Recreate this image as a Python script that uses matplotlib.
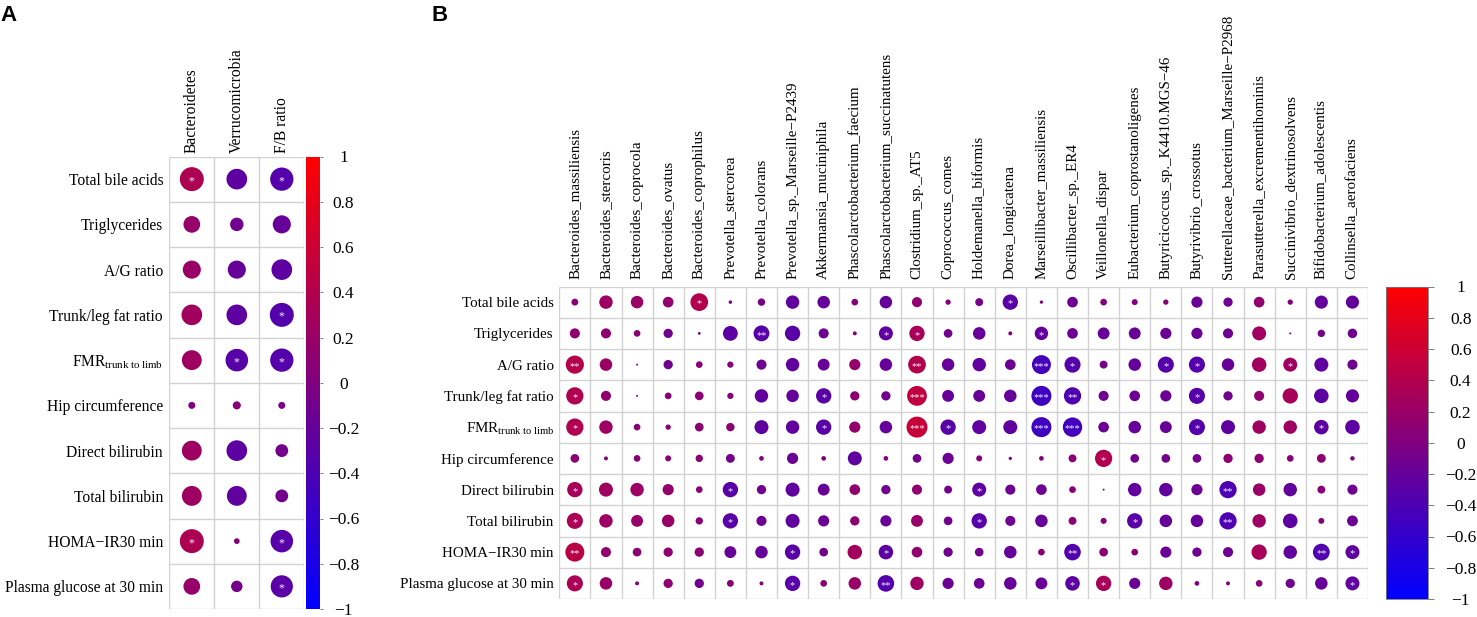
import numpy as np
import matplotlib
matplotlib.use("Agg")
import matplotlib.pyplot as plt
from matplotlib.colors import LinearSegmentedColormap, Normalize
from matplotlib.cm import ScalarMappable
from matplotlib.ticker import FuncFormatter
from matplotlib.transforms import ScaledTranslation

plt.rcParams['font.family'] = ['Liberation Serif', 'DejaVu Serif']
plt.rcParams['mathtext.fontset'] = 'custom'
plt.rcParams['mathtext.rm'] = 'Liberation Serif'
plt.rcParams['mathtext.it'] = 'Liberation Serif:italic'

# ---------------- data ----------------
row_labels = ["Total bile acids", "Triglycerides", "A/G ratio", "Trunk/leg fat ratio",
              r"FMR$_{\mathrm{trunk\ to\ limb}}$", "Hip circumference", "Direct bilirubin",
              "Total bilirubin", "HOMA\u2212IR30 min", "Plasma glucose at 30 min"]

cols_A = ["Bacteroidetes", "Verrucomicrobia", "F/B ratio"]
corr_A = [
    [0.35, -0.26, -0.33],
    [0.17, -0.11, -0.20],
    [0.20, -0.20, -0.26],
    [0.26, -0.26, -0.35],
    [0.24, -0.31, -0.33],
    [0.03, 0.04, -0.03],
    [0.24, -0.26, -0.10],
    [0.24, -0.24, -0.10],
    [0.35, 0.02, -0.31],
    [0.17, -0.08, -0.30],
]
sig_A = [
    ["*", "", "*"],
    ["", "", ""],
    ["", "", ""],
    ["", "", "*"],
    ["", "*", "*"],
    ["", "", ""],
    ["", "", ""],
    ["", "", ""],
    ["*", "", "*"],
    ["", "", "*"],
]

cols_B = ["Bacteroides_massiliensis", "Bacteroides_stercoris", "Bacteroides_coprocola",
          "Bacteroides_ovatus", "Bacteroides_coprophilus", "Prevotella_stercorea",
          "Prevotella_colorans", "Prevotella_sp._Marseille\u2212P2439", "Akkermansia_muciniphila",
          "Phascolarctobacterium_faecium", "Phascolarctobacterium_succinatutens",
          "Clostridium_sp._AT5", "Coprococcus_comes", "Holdemanella_biformis",
          "Dorea_longicatena", "Marseillibacter_massiliensis", "Oscillibacter_sp._ER4",
          "Veillonella_dispar", "Eubacterium_coprostanoligenes",
          "Butyricicoccus_sp._K4410.MGS\u221246", "Butyrivibrio_crossotus",
          "Sutterellaceae_bacterium_Marseille\u2212P2968", "Parasutterella_excrementihominis",
          "Succinivibrio_dextrinosolvens", "Bifidobacterium_adolescentis",
          "Collinsella_aerofaciens"]

b_total_bile_acids = [0.06, 0.23, 0.20, 0.145, 0.40, 0.016, -0.07, -0.23, -0.20, 0.057, -0.20, 0.13, 0.036,
                      -0.08, -0.30, 0.014, -0.145, 0.057, 0.046, 0.036, -0.16, -0.11, 0.145, 0.036, -0.22, -0.22]
b_triglycerides = [0.13, 0.13, 0.057, -0.11, 0.01, -0.28, -0.32, -0.30, -0.13, 0.02, -0.25, 0.30, -0.096,
                   -0.20, 0.02, -0.23, -0.145, -0.18, -0.18, -0.16, -0.16, -0.13, 0.25, 0.005, -0.07, -0.115]
b_ag_ratio = [0.42, 0.20, 0.005, -0.11, 0.057, 0.05, -0.13, -0.23, -0.18, 0.16, -0.20, 0.40, -0.20,
              -0.23, -0.145, -0.46, -0.33, -0.08, -0.20, -0.33, -0.33, -0.20, 0.27, 0.25, -0.25, -0.13]
b_trunk_leg = [0.38, 0.13, 0.005, 0.057, 0.096, 0.05, -0.23, -0.20, -0.30, 0.11, -0.11, 0.50, -0.18,
               -0.18, -0.20, -0.51, -0.38, -0.13, -0.145, -0.16, -0.33, -0.11, 0.13, 0.30, -0.27, -0.22]
b_fmr = [0.38, 0.23, 0.057, 0.036, 0.096, 0.09, -0.25, -0.23, -0.30, 0.16, -0.20, 0.56, -0.30,
         -0.25, -0.25, -0.51, -0.48, -0.145, -0.20, -0.18, -0.33, -0.25, 0.23, 0.23, -0.27, -0.27]
b_hip = [0.096, 0.02, 0.057, 0.046, 0.069, -0.10, 0.028, -0.16, 0.028, -0.25, 0.028, -0.096, -0.16,
         0.046, 0.014, 0.028, 0.08, 0.38, -0.096, -0.096, -0.096, 0.11, 0.11, 0.057, 0.10, 0.025]
b_direct_bil = [0.30, 0.25, 0.23, 0.16, 0.057, -0.30, -0.11, -0.25, -0.18, 0.145, -0.11, 0.13, -0.08,
                -0.25, -0.13, -0.145, 0.057, 0.005, -0.23, -0.23, -0.16, -0.38, 0.20, -0.23, 0.08, -0.13]
b_total_bil = [0.33, 0.23, 0.18, 0.20, 0.069, -0.30, -0.13, -0.25, -0.16, 0.11, -0.16, 0.18, -0.096,
               -0.30, -0.13, -0.20, 0.08, 0.046, -0.30, -0.20, -0.20, -0.38, 0.23, -0.27, 0.044, -0.15]
b_homa = [0.46, 0.13, 0.096, 0.11, 0.11, -0.18, -0.20, -0.30, -0.096, 0.27, -0.27, 0.145, -0.11,
          -0.096, -0.20, 0.057, -0.35, 0.096, 0.057, -0.16, -0.11, -0.13, 0.30, -0.23, -0.36, -0.25]
b_glucose = [0.33, 0.20, 0.02, 0.11, -0.11, 0.06, 0.02, -0.30, 0.057, 0.20, -0.35, 0.23, -0.16,
             -0.145, -0.20, -0.18, -0.27, 0.30, -0.16, 0.23, 0.028, 0.02, 0.057, -0.11, -0.20, -0.25]
corr_B = [b_total_bile_acids, b_triglycerides, b_ag_ratio, b_trunk_leg, b_fmr, b_hip,
          b_direct_bil, b_total_bil, b_homa, b_glucose]

# significance marks: (row, column, label)
sig_B_list = [
    (0, 4, "*"), (0, 14, "*"),
    (1, 6, "**"), (1, 10, "*"), (1, 11, "*"), (1, 15, "*"),
    (2, 0, "**"), (2, 11, "**"), (2, 15, "***"), (2, 16, "*"), (2, 19, "*"), (2, 20, "*"), (2, 23, "*"),
    (3, 0, "*"), (3, 8, "*"), (3, 11, "***"), (3, 15, "***"), (3, 16, "**"), (3, 20, "*"),
    (4, 0, "*"), (4, 8, "*"), (4, 11, "***"), (4, 12, "*"), (4, 15, "***"), (4, 16, "***"),
    (4, 20, "*"), (4, 24, "*"),
    (5, 17, "*"),
    (6, 0, "*"), (6, 5, "*"), (6, 13, "*"), (6, 21, "**"),
    (7, 0, "*"), (7, 5, "*"), (7, 13, "*"), (7, 18, "*"), (7, 21, "**"),
    (8, 0, "**"), (8, 7, "*"), (8, 10, "*"), (8, 16, "**"), (8, 24, "**"), (8, 25, "*"),
    (9, 0, "*"), (9, 7, "*"), (9, 10, "**"), (9, 16, "*"), (9, 17, "*"), (9, 25, "*"),
]

cbar_ticks = [1.0, 0.8, 0.6, 0.4, 0.2, 0.0, -0.2, -0.4, -0.6, -0.8, -1.0]

# ---------------- figure ----------------
W, H, DPI = 1477, 617, 100
fig = plt.figure(figsize=(W / DPI, H / DPI), dpi=DPI)
fig.patch.set_facecolor("white")


def rect(x0, y0, x1, y1):
    return [x0 / W, 1 - y1 / H, (x1 - x0) / W, (y1 - y0) / H]


axA = fig.add_axes(rect(169.3, 156.5, 304.3, 609))
caxA = fig.add_axes(rect(305.7, 156.5, 320, 609))
axB = fig.add_axes(rect(559.3, 286.5, 1368, 599))
caxB = fig.add_axes(rect(1385.8, 286.5, 1428, 599))

cmap = LinearSegmentedColormap.from_list("blue_red", ["#0000FF", "#FF0000"])
norm = Normalize(-1, 1)


def draw_panel(ax, corr, sig, cols, rows, fs_lab, xpad, ypad, star_fs):
    corr = np.asarray(corr, dtype=float)
    nr, nc = corr.shape
    ax.set_xlim(0, nc)
    ax.set_ylim(nr, 0)
    for s in ax.spines.values():
        s.set_visible(False)
    ax.vlines(np.arange(nc + 1), 0, nr, color="#d2d2d2", lw=1.0, zorder=1)
    ax.hlines(np.arange(nr + 1), 0, nc, color="#d2d2d2", lw=1.0, zorder=1)
    bb = ax.get_position()
    cell_px = min(bb.width * W / nc, bb.height * H / nr)
    cell_pt = cell_px * 72.0 / DPI
    X, Y = np.meshgrid(np.arange(nc) + 0.5, np.arange(nr) + 0.5)
    sizes = (0.9 * np.sqrt(np.abs(corr)) * cell_pt) ** 2
    ax.scatter(X.ravel(), Y.ravel(), s=sizes.ravel(), c=corr.ravel(), cmap=cmap,
               norm=norm, linewidths=0, zorder=3)
    off = ScaledTranslation(0, -0.42 * star_fs / 72.0, fig.dpi_scale_trans)
    for (i, j, lab) in sig:
        ax.text(j + 0.5, i + 0.5, lab, ha="center", va="baseline", color="#f2ecff",
                fontsize=star_fs, zorder=4, transform=ax.transData + off)
    ax.xaxis.tick_top()
    ax.set_xticks(np.arange(nc) + 0.5)
    ax.set_xticklabels(cols, rotation=90, fontsize=fs_lab)
    ax.set_yticks(np.arange(nr) + 0.5)
    ax.set_yticklabels(rows, fontsize=fs_lab)
    ax.tick_params(axis="x", length=0, pad=xpad)
    ax.tick_params(axis="y", length=0, pad=ypad)


def sig_from_grid(grid):
    out = []
    for i, r in enumerate(grid):
        for j, lab in enumerate(r):
            if lab:
                out.append((i, j, lab))
    return out


draw_panel(axA, corr_A, sig_from_grid(sig_A), cols_A, row_labels, 11.2, 2.8, 4.5, 8.5)
draw_panel(axB, corr_B, sig_B_list, cols_B, row_labels, 10.8, 5.5, 4.0, 7.5)


def fmt(v, pos):
    s = "%g" % round(v, 1)
    if s == "-0":
        s = "0"
    return s.replace("-", "\u2212")


def draw_cbar(cax, pad, ticklen, outline):
    cb = fig.colorbar(ScalarMappable(norm=norm, cmap=cmap), cax=cax, ticks=cbar_ticks,
                      format=FuncFormatter(fmt))
    cb.outline.set_visible(outline)
    if outline:
        cb.outline.set_linewidth(0.6)
        cb.outline.set_edgecolor("#777777")
    cax.tick_params(axis="y", direction="out", length=ticklen, width=0.6, color="#666666",
                    pad=pad, labelsize=12.5)
    for t in cax.get_yticklabels():
        t.set_horizontalalignment("center")
    return cb


draw_cbar(caxA, 14.8, 2.2, False)
draw_cbar(caxB, 19.5, 4.0, True)

fig.text(0.0, 1 - 5 / H, "A", ha="left", va="top", fontsize=16, fontweight="bold",
         family="Liberation Sans")
fig.text(431 / W, 1 - 5 / H, "B", ha="left", va="top", fontsize=16, fontweight="bold",
         family="Liberation Sans")

fig.savefig("out.png", dpi=DPI, facecolor="white")
